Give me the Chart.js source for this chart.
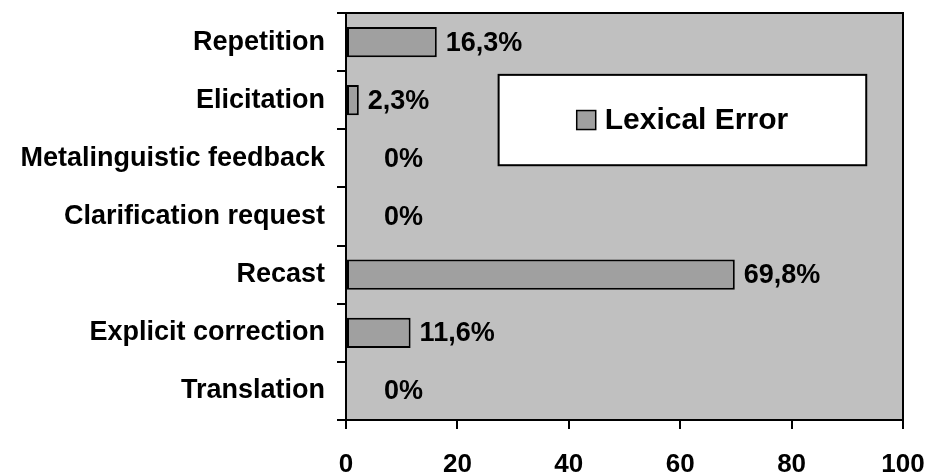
<!DOCTYPE html>
<html>
<head>
<meta charset="utf-8">
<script src="https://cdn.jsdelivr.net/npm/chart.js@4/dist/chart.umd.min.js"></script>
<style>
  html, body { margin: 0; padding: 0; background: #ffffff; }
  #wrap { width: 930px; height: 472px; }
</style>
</head>
<body>
<div id="wrap"><canvas id="c" width="930" height="472"></canvas></div>
<script>
// Feedback types (top to bottom) and share of lexical errors, in percent
const categories = [
  'Repetition',
  'Elicitation',
  'Metalinguistic feedback',
  'Clarification request',
  'Recast',
  'Explicit correction',
  'Translation'
];
const lexicalError = [16.3, 2.3, 0, 0, 69.8, 11.6, 0];
const seriesName = 'Lexical Error';
const xTicks = [0, 20, 40, 60, 80, 100];

const FONT = '"Liberation Sans", Arial, Helvetica, sans-serif';
const BAR_FILL = '#a0a0a0';
const PLOT_FILL = '#c0c0c0';

// Grey plot background with a black frame
const plotFrame = {
  id: 'plotFrame',
  beforeDatasetsDraw(chart) {
    const { ctx, chartArea: a } = chart;
    ctx.save();
    ctx.fillStyle = PLOT_FILL;
    ctx.fillRect(a.left, a.top, a.right - a.left, a.bottom - a.top);
    ctx.restore();
  },
  afterDatasetsDraw(chart) {
    const { ctx, chartArea: a } = chart;
    ctx.save();
    ctx.strokeStyle = '#000';
    ctx.lineWidth = 2;
    ctx.strokeRect(a.left, a.top, a.right - a.left, a.bottom - a.top);
    ctx.restore();
  }
};

// Percentage labels written with a decimal comma just past each bar end
const valueLabels = {
  id: 'valueLabels',
  afterDatasetsDraw(chart) {
    const { ctx } = chart;
    const meta = chart.getDatasetMeta(0);
    const data = chart.data.datasets[0].data;
    ctx.save();
    ctx.font = 'bold 27px ' + FONT;
    ctx.fillStyle = '#000';
    ctx.textAlign = 'left';
    ctx.textBaseline = 'middle';
    meta.data.forEach((bar, i) => {
      const v = data[i];
      const txt = (v === 0 ? '0' : v.toFixed(1).replace('.', ',')) + '%';
      const gap = v === 0 ? 38 : 9;
      ctx.fillText(txt, bar.x + gap, bar.y + 1);
    });
    ctx.restore();
  }
};

// Boxed legend inside the plot area
const boxLegend = {
  id: 'boxLegend',
  afterDraw(chart) {
    const { ctx, chartArea: a } = chart;
    const w = a.right - a.left, h = a.bottom - a.top;
    const bx = a.left + w * 0.274, by = a.top + h * 0.152;
    const bw = w * 0.66, bh = h * 0.222;
    ctx.save();
    ctx.fillStyle = '#fff';
    ctx.fillRect(bx, by, bw, bh);
    ctx.strokeStyle = '#000';
    ctx.lineWidth = 2;
    ctx.strokeRect(bx, by, bw, bh);
    const ds = chart.data.datasets[0];
    ctx.font = 'bold 30px ' + FONT;
    const tw = ctx.measureText(ds.label).width;
    const sw = 19, sp = 9;
    const total = sw + sp + tw;
    const sx = bx + (bw - total) / 2;
    const cy = by + bh / 2;
    ctx.fillStyle = ds.backgroundColor;
    ctx.fillRect(sx, cy - sw / 2, sw, sw);
    ctx.strokeStyle = '#000';
    ctx.lineWidth = 1.5;
    ctx.strokeRect(sx, cy - sw / 2, sw, sw);
    ctx.fillStyle = '#000';
    ctx.textAlign = 'left';
    ctx.textBaseline = 'middle';
    ctx.fillText(ds.label, sx + sw + sp, cy + 1);
    ctx.restore();
  }
};

// Fixed axis sizes; no extra room reserved for overhanging labels
function fixedSize(prop, size) {
  return function (scale) {
    scale[prop] = size;
    scale.paddingTop = 0;
    scale.paddingBottom = 0;
    scale.paddingLeft = 0;
    scale.paddingRight = 0;
  };
}

new Chart(document.getElementById('c'), {
  type: 'bar',
  data: {
    labels: categories,
    datasets: [{
      label: seriesName,
      data: lexicalError,
      backgroundColor: BAR_FILL,
      borderColor: '#000',
      borderWidth: 2,
      borderSkipped: false,
      categoryPercentage: 1,
      barPercentage: 0.52
    }]
  },
  options: {
    indexAxis: 'y',
    responsive: false,
    animation: false,
    devicePixelRatio: 1,
    layout: { padding: { left: 0, top: 13, right: 27, bottom: 0 } },
    plugins: {
      legend: { display: false },
      tooltip: { enabled: false }
    },
    scales: {
      x: {
        type: 'linear',
        min: 0,
        max: 100,
        afterBuildTicks(scale) { scale.ticks = xTicks.map(v => ({ value: v })); },
        afterFit: fixedSize('height', 52),
        border: { display: false },
        grid: { drawOnChartArea: false, drawTicks: true, tickLength: 9, color: '#000', lineWidth: 2 },
        ticks: {
          color: '#000',
          padding: 20,
          maxRotation: 0,
          font: { family: FONT, size: 26, weight: 'bold' }
        }
      },
      y: {
        afterFit: fixedSize('width', 346),
        border: { display: false },
        grid: { offset: true, drawOnChartArea: false, drawTicks: true, tickLength: 9, color: '#000', lineWidth: 2 },
        ticks: {
          color: '#000',
          padding: 12,
          font: { family: FONT, size: 27, weight: 'bold' }
        }
      }
    }
  },
  plugins: [plotFrame, valueLabels, boxLegend]
});
</script>
</body>
</html>
